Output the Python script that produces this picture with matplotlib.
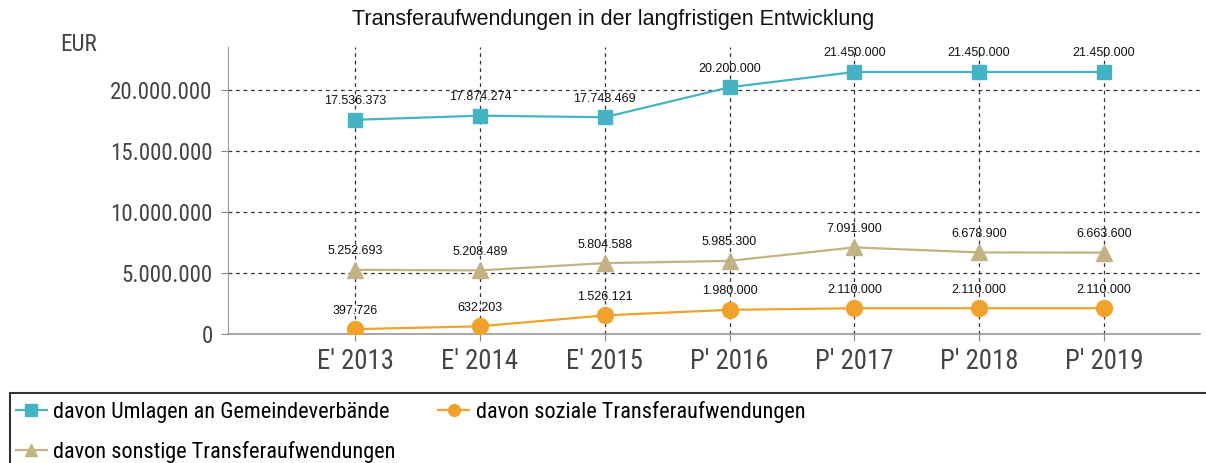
import matplotlib
matplotlib.use("Agg")
import matplotlib.pyplot as plt
from matplotlib import font_manager as fm
from matplotlib.ticker import FuncFormatter
from matplotlib.patches import Rectangle

categories = ["E' 2013", "E' 2014", "E' 2015", "P' 2016", "P' 2017", "P' 2018", "P' 2019"]
umlagen = [17536373, 17874274, 17748469, 20200000, 21450000, 21450000, 21450000]
soziale = [397726, 632203, 1526121, 1980000, 2110000, 2110000, 2110000]
sonstige = [5252693, 5208489, 5804588, 5985300, 7091900, 6678900, 6663600]
y_ticks = [0, 5000000, 10000000, 15000000, 20000000]

def de(v):
    return f"{int(v):,}".replace(",", ".")

REG = ['Liberation Sans', 'DejaVu Sans']
installed = {f.name for f in fm.fontManager.ttflist}
narrow_name = None
for cand, k in (('Liberation Sans Narrow', 1.0 / 0.82), ('Roboto Condensed', 1.12), ('Arial Narrow', 1.0 / 0.82)):
    if cand in installed:
        narrow_name, scale = cand, k
        break
if narrow_name:
    NARROW = [narrow_name] + REG
else:
    NARROW = REG
    scale = 1.0

plt.rcParams['font.family'] = REG

fig = plt.figure(figsize=(12.06, 4.63), dpi=100)
ax = fig.add_axes([0.189, 0.2786, 0.806, 0.62])

x = list(range(len(categories)))
c_teal = "#45B3C4"
c_orange = "#F0A22A"
c_khaki = "#C3B283"

l1, = ax.plot(x, umlagen, color=c_teal, marker="s", markersize=10.5, lw=1.6, zorder=3,
              label="davon Umlagen an Gemeindeverbände")
l2, = ax.plot(x, soziale, color=c_orange, marker="o", markersize=11.5, lw=1.6, zorder=3,
              label="davon soziale Transferaufwendungen")
l3, = ax.plot(x, sonstige, color=c_khaki, marker="^", markersize=12, lw=1.6, zorder=3,
              label="davon sonstige Transferaufwendungen")

for series in (umlagen, soziale, sonstige):
    for xi, v in zip(x, series):
        ax.annotate(de(v), (xi, v), xytext=(0, 9), textcoords="offset points",
                    ha="center", va="bottom", fontsize=9, color="#111111", zorder=4,
                    family=REG)

ax.set_xlim(-1.02, 6.77)
ax.set_ylim(0, 23500000)
ax.set_xticks(x)
ax.set_xticklabels(categories, fontsize=17.2 * scale, color="#444444", family=NARROW)
ax.set_yticks(y_ticks)
ax.yaxis.set_major_formatter(FuncFormatter(lambda v, p: de(v)))
ax.tick_params(axis="y", labelsize=14.8 * scale, labelcolor="#444444", length=5,
               color="#888888", direction="out", pad=6)
for t in ax.get_yticklabels():
    t.set_family(NARROW)
ax.tick_params(axis="x", length=5, color="#888888", direction="out", pad=5)

ax.grid(True, which="major", color="#333333", linestyle=(0, (3, 3)), lw=0.9)
for s in ("top", "right"):
    ax.spines[s].set_visible(False)
ax.spines["left"].set_color("#999999")
ax.spines["bottom"].set_color("#999999")
ax.spines["bottom"].set_linewidth(1.2)

fig.text(0.508, 0.957, "Transferaufwendungen in der langfristigen Entwicklung",
         ha="center", va="center", fontsize=15.5, color="#111111", family=REG)
fig.text(0.0655, 0.903, "EUR", ha="center", va="center", fontsize=14.9 * scale,
         color="#444444", family=NARROW)

fig.patches.append(Rectangle((0.0083, -0.05), 1.0, 0.2012, transform=fig.transFigure,
                             fill=False, edgecolor="#333333", lw=1.5))

leg = fig.legend(handles=[l1, l3, l2], ncol=2, loc="upper left",
                 bbox_to_anchor=(0.013, 0.134), frameon=False,
                 prop={'family': NARROW, 'size': 14.3 * scale}, handlelength=1.4,
                 handletextpad=0.3, columnspacing=1.9, borderpad=0,
                 labelspacing=0.8, borderaxespad=0)
for h in leg.legend_handles:
    h.set_markersize(8.5)

fig.savefig("out.png", dpi=100)
